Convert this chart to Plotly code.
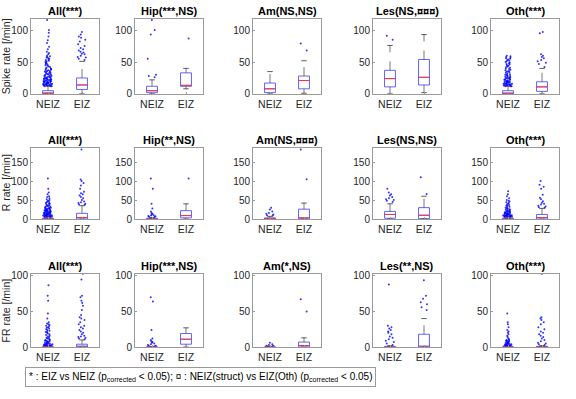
import plotly.graph_objects as go

# ---------------- data ----------------
groups = ["NEIZ", "EIZ"]
row_labels = ["Spike rate [/min]", "R rate [/min]", "FR rate [/min]"]
titles_spike = ["All(***)", "Hip(***,NS)", "Am(NS,NS)", "Les(NS,¤¤¤)", "Oth(***)"]
titles_r = ["All(***)", "Hip(**,NS)", "Am(NS,¤¤¤)", "Les(NS,NS)", "Oth(***)"]
titles_fr = ["All(***)", "Hip(***,NS)", "Am(*,NS)", "Les(**,NS)", "Oth(***)"]

y_ranges = [[0, 118], [0, 188], [0, 103]]
y_ticks = [[0, 50, 100], [0, 50, 100, 150], [0, 50, 100]]

# box stats per region: [lower whisker, q1, median, q3, upper whisker]
spike_neiz_stats = [[0, 0, 1, 5, 12], [0, 2, 5, 12, 22], [0, 2, 8, 17, 35], [0, 11, 24, 37, 76], [0, 0, 0.5, 5, 12]]
spike_eiz_stats = [[0, 7, 14, 25, 51], [8, 12, 13, 33, 40], [1, 8, 21, 28, 52], [2, 14, 26, 54, 93], [0, 4, 11, 19, 40]]
r_neiz_stats = [[0, 0, 0, 2, 5], [0, 0, 0, 2, 4], [0, 0, 1, 3, 7], [0, 2, 12, 20, 40], [0, 0, 0, 2, 5]]
r_eiz_stats = [[0, 0, 4, 15, 35], [0, 3, 9, 22, 40], [0, 0, 3, 26, 42], [0, 1, 10, 30, 60], [0, 0, 4, 12, 28]]
fr_neiz_stats = [[0, 0, 0, 0, 0], [0, 0, 0, 0, 0], [0, 0, 0, 0, 0], [0, 0, 0, 1, 2], [0, 0, 0, 0, 0]]
fr_eiz_stats = [[0, 0, 0, 4, 10], [0, 4, 11, 19, 27], [0, 0, 2, 7, 13], [0, 0, 0, 18, 40], [0, 0, 0, 1, 2]]

# outliers per region
spike_neiz_out = [
    [12, 12, 12, 13, 13, 13, 13, 14, 14, 14, 14, 15, 15, 15, 15, 16, 16, 16, 16, 17, 17, 17, 17, 18, 18, 18,
     19, 19, 19, 20, 20, 20, 20, 21, 21, 21, 22, 22, 22, 23, 23, 23, 24, 24, 24, 25, 25, 25, 26, 26, 27, 27,
     28, 28, 29, 29, 30, 30, 31, 31, 32, 32, 33, 33, 34, 35, 35, 36, 36, 37, 38, 38, 39, 40, 40, 41, 42, 43,
     44, 45, 46, 47, 48, 49, 50, 51, 52, 53, 54, 55, 56, 57, 58, 59, 60, 62, 64, 66, 70, 74, 80, 84, 90, 96,
     100, 116],
    [26, 28, 30, 55, 93, 100, 116],
    [],
    [85, 91],
    [12, 12, 12, 13, 13, 13, 14, 14, 14, 14, 15, 15, 15, 16, 16, 16, 17, 17, 17, 18, 18, 18, 19, 19, 20, 20,
     20, 21, 21, 22, 22, 23, 23, 24, 24, 25, 25, 26, 26, 27, 28, 28, 29, 30, 30, 31, 32, 33, 34, 35, 35, 36,
     37, 38, 39, 40, 41, 42, 43, 44, 45, 46, 47, 48, 49, 50, 51, 52, 53, 54, 55, 56, 57, 58, 59, 60],
]
spike_eiz_out = [
    [53, 55, 57, 58, 60, 62, 63, 65, 66, 68, 70, 72, 75, 78, 82, 85, 88, 90, 93, 97],
    [87],
    [68, 79],
    [],
    [42, 47, 49, 51, 53, 56, 58, 60, 62, 95, 97],
]
r_neiz_out = [
    [5, 5, 6, 6, 6, 7, 7, 7, 8, 8, 8, 9, 9, 9, 10, 10, 10, 11, 11, 12, 12, 12, 13, 13, 14, 14, 15, 15, 15, 16,
     16, 17, 17, 18, 18, 19, 19, 20, 20, 21, 21, 22, 22, 23, 24, 24, 25, 25, 26, 27, 28, 28, 29, 30, 30, 31,
     32, 33, 34, 35, 36, 37, 38, 40, 41, 42, 44, 45, 47, 48, 50, 52, 55, 58, 60, 65, 70, 80, 107],
    [5, 6, 7, 8, 9, 10, 12, 14, 16, 20, 28, 40, 80, 107],
    [9, 10, 12, 14, 16, 20, 25, 30],
    [45, 48, 50, 52, 55, 58, 62, 65, 70, 80],
    [5, 5, 6, 6, 6, 7, 7, 7, 8, 8, 8, 9, 9, 9, 10, 10, 10, 11, 11, 12, 12, 13, 13, 14, 14, 15, 15, 16, 16, 17,
     18, 18, 19, 20, 20, 21, 22, 23, 24, 25, 26, 27, 28, 30, 31, 32, 34, 35, 37, 38, 40, 42, 44, 46, 48, 50,
     55, 60, 65, 73],
]
r_eiz_out = [
    [37, 38, 40, 42, 44, 46, 50, 55, 58, 62, 65, 68, 72, 80, 88, 95, 100, 104, 183],
    [107],
    [105, 183],
    [66, 110],
    [30, 31, 33, 35, 38, 40, 43, 47, 52, 56, 64, 80, 85, 90, 100],
]
fr_neiz_out = [
    [1, 1, 1, 1, 1, 2, 2, 2, 2, 2, 3, 3, 3, 3, 4, 4, 4, 4, 5, 5, 5, 6, 6, 6, 7, 7, 8, 8, 9, 9, 10, 10, 11, 12,
     12, 13, 14, 15, 16, 17, 18, 19, 20, 21, 22, 23, 24, 25, 26, 27, 28, 29, 30, 31, 32, 33, 35, 40, 47, 65,
     72, 87],
    [1, 2, 2, 3, 4, 5, 6, 7, 8, 10, 12, 24, 64, 70],
    [1, 1, 2, 2, 3, 4, 6],
    [3, 5, 7, 9, 11, 13, 15, 18, 20, 22, 24, 26, 28, 30, 88],
    [1, 1, 1, 1, 1, 2, 2, 2, 2, 2, 3, 3, 3, 3, 4, 4, 4, 4, 5, 5, 5, 6, 6, 6, 7, 7, 8, 8, 9, 9, 10, 10, 11, 12,
     14, 16, 18, 20, 22, 24, 28, 32, 35, 47],
]
fr_eiz_out = [
    [11, 12, 13, 14, 15, 16, 18, 20, 22, 24, 26, 28, 30, 32, 35, 38, 40, 42, 45, 52, 58, 62, 65, 70, 72, 95, 103],
    [],
    [50, 67],
    [52, 56, 60, 63, 68, 72, 94],
    [3, 4, 5, 6, 8, 10, 12, 14, 16, 18, 20, 22, 25, 28, 32, 35, 38, 40, 42, 103],
]

rows = [
    (titles_spike, spike_neiz_stats, spike_eiz_stats, spike_neiz_out, spike_eiz_out),
    (titles_r, r_neiz_stats, r_eiz_stats, r_neiz_out, r_eiz_out),
    (titles_fr, fr_neiz_stats, fr_eiz_stats, fr_neiz_out, fr_eiz_out),
]

# ---------------- layout geometry (pixels) ----------------
W, H = 576, 399
col_left = [31, 135, 253, 373, 491]
plot_w = 68
row_top = [16, 148, 277]
row_bot = [93, 221, 352]

FONT = "Liberation Sans, Arial, Helvetica, sans-serif"
TXT = "#262626"
FRAME = "#9a9a9a"
BLUE = "#0000ff"
BOXBLUE = "#5050ff"

fig = go.Figure()
layout = dict(
    width=W, height=H, margin=dict(l=0, r=0, t=0, b=0),
    paper_bgcolor="white", plot_bgcolor="white", showlegend=False,
    font=dict(family=FONT, size=10, color=TXT),
    annotations=[],
)

box_half = 0.16
cap_half = 0.08

for r, (titles, s_neiz, s_eiz, o_neiz, o_eiz) in enumerate(rows):
    for c in range(5):
        k = r * 5 + c + 1
        xa = "x" if k == 1 else f"x{k}"
        ya = "y" if k == 1 else f"y{k}"
        xkey = "xaxis" if k == 1 else f"xaxis{k}"
        ykey = "yaxis" if k == 1 else f"yaxis{k}"
        layout[xkey] = dict(
            domain=[col_left[c] / W, (col_left[c] + plot_w) / W],
            anchor=ya, range=[0.5, 2.5], tickvals=[1, 2], ticktext=groups,
            showline=True, mirror=True, linecolor=FRAME, linewidth=1,
            ticks="inside", ticklen=2, tickcolor=FRAME, showgrid=False, zeroline=False,
            tickfont=dict(size=10.5, color=TXT, family=FONT),
        )
        layout[ykey] = dict(
            domain=[1 - row_bot[r] / H, 1 - row_top[r] / H],
            anchor=xa, range=y_ranges[r], tickvals=y_ticks[r],
            showline=True, mirror=True, linecolor=FRAME, linewidth=1,
            ticks="inside", ticklen=2, tickcolor=FRAME, showgrid=False, zeroline=False,
            tickfont=dict(size=10, color=TXT, family=FONT),
        )
        layout["annotations"].append(dict(
            text="<b>" + titles[c] + "</b>", xref="paper", yref="paper",
            x=(col_left[c] + plot_w / 2) / W, y=1 - row_top[r] / H,
            xanchor="center", yanchor="bottom", yshift=0, showarrow=False,
            font=dict(size=11, color="black", family=FONT),
        ))
        for gi, (stats, outs) in enumerate([(s_neiz[c], o_neiz[c]), (s_eiz[c], o_eiz[c])]):
            p = gi + 1
            lo, q1, med, q3, hi = stats
            # outlier points with library jitter
            if outs:
                fig.add_trace(go.Box(
                    x=[p] * len(outs), y=outs, orientation="v", xaxis=xa, yaxis=ya,
                    boxpoints="all", jitter=1, pointpos=0, width=0.3,
                    fillcolor="rgba(0,0,0,0)", line=dict(color="rgba(0,0,0,0)", width=0),
                    marker=dict(color=BLUE, size=2, opacity=0.8),
                    hoverinfo="skip", showlegend=False,
                ))
            # box body
            fig.add_trace(go.Box(
                x=[p], q1=[q1], median=[med], q3=[q3], lowerfence=[q1], upperfence=[q3],
                xaxis=xa, yaxis=ya, width=2 * box_half, whiskerwidth=0,
                fillcolor="rgba(0,0,0,0)", line=dict(color=BOXBLUE, width=0.9),
                boxpoints=False, hoverinfo="skip", showlegend=False,
            ))
            # dashed whiskers
            fig.add_trace(go.Scatter(
                x=[p, p, None, p, p], y=[lo, q1, None, q3, hi], mode="lines",
                xaxis=xa, yaxis=ya, line=dict(color="#555555", width=0.8, dash="dash"),
                hoverinfo="skip", showlegend=False,
            ))
            # whisker caps
            fig.add_trace(go.Scatter(
                x=[p - cap_half, p + cap_half, None, p - cap_half, p + cap_half],
                y=[lo, lo, None, hi, hi], mode="lines",
                xaxis=xa, yaxis=ya, line=dict(color="#333333", width=0.8),
                hoverinfo="skip", showlegend=False,
            ))
            # median (red)
            fig.add_trace(go.Scatter(
                x=[p - box_half, p + box_half], y=[med, med], mode="lines",
                xaxis=xa, yaxis=ya, line=dict(color="#ff3030", width=1),
                hoverinfo="skip", showlegend=False,
            ))

# row y labels
for r in range(3):
    layout["annotations"].append(dict(
        text=row_labels[r], xref="paper", yref="paper", x=6 / W,
        y=1 - (row_top[r] + row_bot[r]) / 2 / H, xanchor="center", yanchor="middle",
        textangle=-90, showarrow=False, font=dict(size=10.5, color=TXT, family=FONT),
    ))

# significance legend box
layout["annotations"].append(dict(
    text="* : EIZ vs NEIZ (p<sub>corrected</sub> &lt; 0.05); ¤ : NEIZ(struct) vs EIZ(Oth) (p<sub>corrected</sub> &lt; 0.05)",
    xref="paper", yref="paper", x=25 / W, y=1 - 383 / H, xanchor="left", yanchor="middle",
    showarrow=False, bordercolor=FRAME, borderwidth=1, borderpad=3, bgcolor="white",
    font=dict(size=10, color="black", family=FONT),
))

fig.update_layout(**layout)
fig.write_html("out.html")
